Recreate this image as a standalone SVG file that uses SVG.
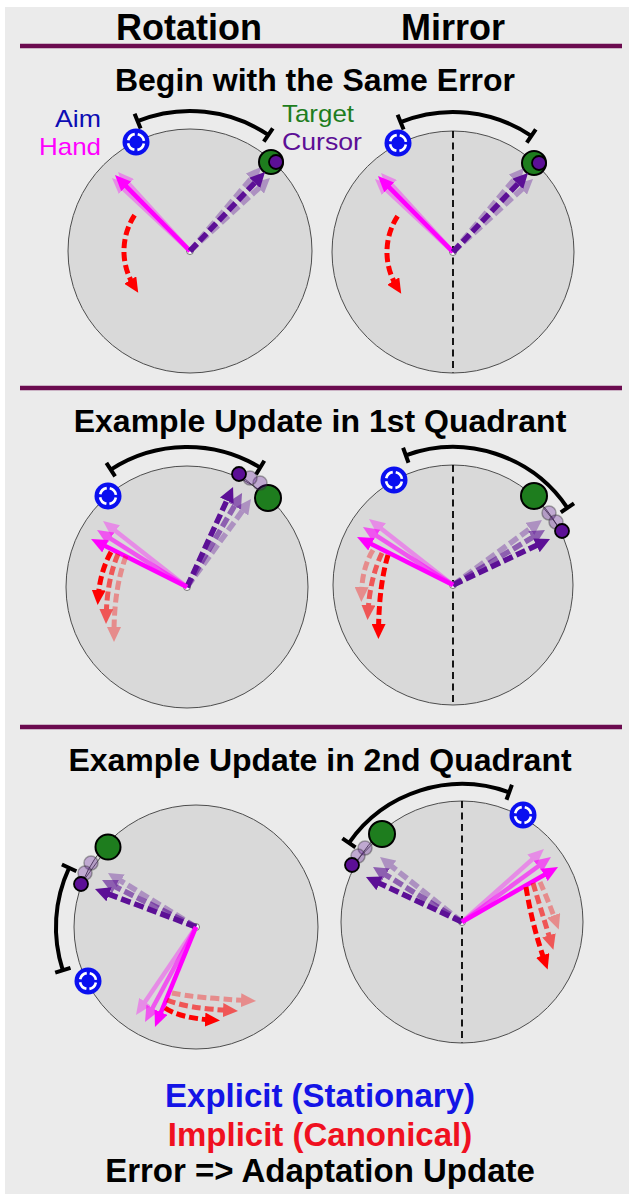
<svg xmlns="http://www.w3.org/2000/svg" width="629" height="1194" viewBox="0 0 629 1194">
  <style>
    .bg{fill:#ebebeb}
    .disk{fill:#d9d9d9;stroke:#4d4d4d;stroke-width:1}
    .axis{stroke:#000;stroke-width:1.8;stroke-dasharray:7 4.5;fill:none}
    .sep{stroke:#6b0b4f;stroke-width:4.5}
    .hdr{font-family:"Liberation Sans",Arial,sans-serif;font-weight:bold;font-size:36px;text-anchor:middle;fill:#000}
    .ttl{font-family:"Liberation Sans",Arial,sans-serif;font-weight:bold;font-size:32px;text-anchor:middle;fill:#000}
    .leg{font-family:"Liberation Sans",Arial,sans-serif;font-weight:bold;font-size:33px;text-anchor:middle}
    .lbl{font-family:"Liberation Sans",Arial,sans-serif;font-size:24px}
    .hand{stroke:#ff00ff;stroke-width:4.5;fill:none;marker-end:url(#mh)}
    .cur{stroke:#5c0f96;stroke-width:5.5;stroke-dasharray:10 4;fill:none;marker-end:url(#mp)}
    .imp{stroke:#ff0000;stroke-width:5;stroke-dasharray:9 4;fill:none;marker-end:url(#mr)}
    .err{stroke:#000;stroke-width:4;fill:none}
    .tgt{fill:#1e7d1e;stroke:#000;stroke-width:2}
    .cdot{fill:#5c0f96;stroke:#000;stroke-width:1.8}
    .ghost{fill:#5c0f96;fill-opacity:.3;stroke:#333;stroke-opacity:.4;stroke-width:1.5}
    .link{stroke:#333;stroke-width:0.8}
    .o1{opacity:.6}
    .o2{opacity:.35}
    .origin{fill:#fff;stroke:#555;stroke-width:.8}
  </style>
  <defs>
    <marker id="mh" markerUnits="userSpaceOnUse" markerWidth="16" markerHeight="14" refX="8" refY="7" orient="auto">
      <path d="M0,0 L16,7 L0,14 z" fill="#ff00ff"/>
    </marker>
    <marker id="mp" markerUnits="userSpaceOnUse" markerWidth="15" markerHeight="15" refX="7" refY="7.5" orient="auto">
      <path d="M0,0 L15,7.5 L0,15 z" fill="#5c0f96"/>
    </marker>
    <marker id="mr" markerUnits="userSpaceOnUse" markerWidth="15" markerHeight="14" refX="7" refY="7" orient="auto">
      <path d="M0,0 L15,7 L0,14 z" fill="#ff0000"/>
    </marker>
    <!-- explicit aim icon: blue disc with a broken white ring -->
    <g id="aim">
      <circle r="13.5" fill="#0a0ff0"/>
      <circle r="8" fill="none" stroke="#fff" stroke-width="2.6" stroke-dasharray="9.5 3.07" stroke-dashoffset="11.04"/>
      <circle r="4.5" fill="#0a0ff0"/>
    </g>
  </defs>

  <rect width="629" height="1194" fill="#fff"/>
  <rect class="bg" x="5" y="7" width="624" height="1187"/>

  <!-- column headings and separators -->
  <g id="headings">
    <text class="hdr" x="189" y="40">Rotation</text>
    <text class="hdr" x="453" y="40">Mirror</text>
    <line class="sep" x1="20" y1="46" x2="622" y2="46"/>
    <line class="sep" x1="20" y1="388" x2="622" y2="388"/>
    <line class="sep" x1="20" y1="727" x2="622" y2="727"/>
    <text class="ttl" x="315" y="91">Begin with the Same Error</text>
    <text class="ttl" x="320" y="432">Example Update in 1st Quadrant</text>
    <text class="ttl" x="320" y="771">Example Update in 2nd Quadrant</text>
  </g>

  <g id="labels">
    <text class="lbl" x="101" y="127" text-anchor="end" fill="#0d0db4" textLength="46" lengthAdjust="spacingAndGlyphs">Aim</text>
    <text class="lbl" x="101" y="155" text-anchor="end" fill="#ff00ff" textLength="62" lengthAdjust="spacingAndGlyphs">Hand</text>
    <text class="lbl" x="282" y="122" fill="#1e7d1e" textLength="72" lengthAdjust="spacingAndGlyphs">Target</text>
    <text class="lbl" x="282" y="150" fill="#5c0f96" textLength="80" lengthAdjust="spacingAndGlyphs">Cursor</text>
  </g>

  <!-- workspaces -->
  <g id="workspaces">
    <circle class="disk" cx="190" cy="251" r="122"/>
    <circle class="disk" cx="453" cy="252" r="121"/>
    <line class="axis" x1="453" y1="131" x2="453" y2="373"/>
    <circle class="disk" cx="187" cy="587" r="121"/>
    <circle class="disk" cx="453" cy="585" r="120"/>
    <line class="axis" x1="453" y1="465" x2="453" y2="705"/>
    <circle class="disk" cx="196" cy="927" r="122"/>
    <circle class="disk" cx="462" cy="922" r="121"/>
    <line class="axis" x1="462" y1="801" x2="462" y2="1043"/>
  </g>

  <!-- panel 1: rotation -->
  <g id="rot-begin">
    <path class="err" d="M137.6,121.2 A140,140 0 0 1 268.3,134.9 M134.6,113.8 L140.6,128.6 M263.8,141.6 L272.8,128.3"/>
    <use href="#aim" x="136" y="142"/>
    <circle class="tgt" cx="271" cy="162" r="12"/>
    <circle class="cdot" cx="276" cy="162" r="7"/>
    <circle class="origin" cx="190" cy="251" r="3.5"/>
    <g class="o2"><path class="hand" d="M190,251 L117.8,183.5"/></g>
    <g class="o2"><path class="hand" d="M190,251 L123.4,177.9"/></g>
    <path class="hand" d="M190,251 L120.6,180.7"/>
    <g class="o2"><path class="cur" d="M190,251 L264.1,183.4"/></g>
    <g class="o2"><path class="cur" d="M190,251 L255.8,173.1"/></g>
    <path class="cur" d="M190,251 L259.5,177.8"/>
    <path class="imp" d="M134.6,215.1 A66,66 0 0 0 134,286"/>
  </g>

  <!-- panel 1: mirror -->
  <g id="mir-begin">
    <path class="err" d="M400.6,122.2 A140,140 0 0 1 531.3,135.9 M397.6,114.8 L403.6,129.6 M526.8,142.6 L535.8,129.3"/>
    <use href="#aim" x="398" y="143"/>
    <circle class="tgt" cx="534" cy="163" r="12"/>
    <circle class="cdot" cx="539" cy="163" r="7"/>
    <circle class="origin" cx="453" cy="252" r="3.5"/>
    <g class="o2"><path class="hand" d="M453,252 L380.8,184.5"/></g>
    <g class="o2"><path class="hand" d="M453,252 L386.4,178.9"/></g>
    <path class="hand" d="M453,252 L383.6,181.7"/>
    <g class="o2"><path class="cur" d="M453,252 L527.1,184.4"/></g>
    <g class="o2"><path class="cur" d="M453,252 L518.8,174.1"/></g>
    <path class="cur" d="M453,252 L522.5,178.8"/>
    <path class="imp" d="M397.6,216.1 A66,66 0 0 0 397,287"/>
  </g>

  <!-- panel 2: rotation -->
  <g id="rot-q1">
    <path class="err" d="M110.8,469.6 A140,140 0 0 1 260.2,467.6 M106.4,462.9 L115.1,476.3 M256,474.5 L264.3,460.8"/>
    <use href="#aim" x="108" y="496"/>
    <line class="link" x1="268" y1="498" x2="239" y2="474"/>
    <circle class="tgt" cx="268" cy="498" r="13"/>
    <circle class="ghost" cx="260" cy="483" r="7"/>
    <circle class="ghost" cx="250" cy="478" r="7"/>
    <circle class="cdot" cx="239" cy="474" r="7"/>
    <circle class="origin" cx="187" cy="587" r="3.5"/>
    <g class="o2"><path class="cur" d="M187,587 L246.3,505.5"/></g>
    <g class="o1"><path class="cur" d="M187,587 L238,499.9"/></g>
    <path class="cur" d="M187,587 L229.7,494.3"/>
    <g class="o2"><path class="hand" d="M187,587 L109.3,525.9"/></g>
    <g class="o1"><path class="hand" d="M187,587 L103.8,534.3"/></g>
    <path class="hand" d="M187,587 L98.2,542.6"/>
    <g class="o2"><path class="imp" d="M126,556 Q114,588 114,634"/></g>
    <g class="o1"><path class="imp" d="M118,554 Q107,580 106.2,616"/></g>
    <path class="imp" d="M111,552 Q100,572 98.2,597"/>
  </g>

  <!-- panel 2: mirror -->
  <g id="mir-q1">
    <path class="err" d="M405.8,455.3 A138,138 0 0 1 567.4,507.8 M403.1,447.8 L408.5,462.8 M560.8,512.3 L574,503.4"/>
    <use href="#aim" x="394" y="480"/>
    <line class="link" x1="534" y1="496" x2="562" y2="531"/>
    <circle class="tgt" cx="534" cy="496" r="13"/>
    <circle class="ghost" cx="549" cy="513" r="7"/>
    <circle class="ghost" cx="556" cy="522" r="7"/>
    <circle class="cdot" cx="562" cy="531" r="7"/>
    <circle class="origin" cx="453" cy="585" r="3.5"/>
    <g class="o2"><path class="cur" d="M453,585 L535.5,524.7"/></g>
    <g class="o1"><path class="cur" d="M453,585 L538.1,534.1"/></g>
    <path class="cur" d="M453,585 L542.8,542.4"/>
    <g class="o2"><path class="hand" d="M453,585 L375.3,523.9"/></g>
    <g class="o1"><path class="hand" d="M453,585 L369.7,531.3"/></g>
    <path class="hand" d="M453,585 L364.2,540.6"/>
    <g class="o2"><path class="imp" d="M373,550 Q362,568 361.5,594"/></g>
    <g class="o1"><path class="imp" d="M382,553 Q370,578 368,612"/></g>
    <path class="imp" d="M388,555 Q379,585 378.5,631"/>
  </g>

  <!-- panel 3: rotation -->
  <g id="rot-q2">
    <path class="err" d="M69.1,867.8 A140,140 0 0 0 62.8,970.3 M61.9,864.5 L76.4,871.2 M55.2,972.7 L70.5,967.8"/>
    <use href="#aim" x="88" y="981"/>
    <line class="link" x1="108" y1="847" x2="81" y2="884"/>
    <circle class="tgt" cx="108" cy="847" r="12.5"/>
    <circle class="ghost" cx="91" cy="863" r="7"/>
    <circle class="ghost" cx="85" cy="873" r="7"/>
    <circle class="cdot" cx="81" cy="884" r="7"/>
    <circle class="origin" cx="196" cy="927" r="3.5"/>
    <g class="o2"><path class="cur" d="M196,927 L114.8,877.2"/></g>
    <g class="o1"><path class="cur" d="M196,927 L109.2,883.6"/></g>
    <path class="cur" d="M196,927 L102.5,891.8"/>
    <g class="o2"><path class="hand" d="M196,927 L140.5,1008.4"/></g>
    <g class="o1"><path class="hand" d="M196,927 L148.8,1015"/></g>
    <path class="hand" d="M196,927 L158,1019.6"/>
    <g class="o2"><path class="imp" d="M172,993 Q195,998 248,1000.5"/></g>
    <g class="o1"><path class="imp" d="M167,1000 Q185,1008 230,1010.5"/></g>
    <path class="imp" d="M165,1008 Q180,1018 212,1020"/>
  </g>

  <!-- panel 3: mirror -->
  <g id="mir-q2">
    <path class="err" d="M509.2,792.3 A138,138 0 0 0 349,842.8 M511.9,784.8 L506.5,799.8 M342.4,838.3 L355.5,847.4"/>
    <use href="#aim" x="523" y="815"/>
    <line class="link" x1="382" y1="834" x2="352" y2="865"/>
    <circle class="tgt" cx="382" cy="834" r="13"/>
    <circle class="ghost" cx="365" cy="848" r="7"/>
    <circle class="ghost" cx="358" cy="856" r="7"/>
    <circle class="cdot" cx="352" cy="865" r="7"/>
    <circle class="origin" cx="462" cy="922" r="3.5"/>
    <g class="o2"><path class="cur" d="M462,922 L386.3,862"/></g>
    <g class="o1"><path class="cur" d="M462,922 L379.8,871.2"/></g>
    <path class="cur" d="M462,922 L373.2,880.4"/>
    <g class="o2"><path class="hand" d="M462,922 L538,854.3"/></g>
    <g class="o1"><path class="hand" d="M462,922 L544.5,861.7"/></g>
    <path class="hand" d="M462,922 L551.1,871"/>
    <g class="o2"><path class="imp" d="M540,882 Q548,900 556,922"/></g>
    <g class="o1"><path class="imp" d="M533,883 Q541,910 551,942"/></g>
    <path class="imp" d="M526,887 Q532,925 545,962"/>
  </g>

  <!-- legend -->
  <g id="legend">
    <text class="leg" x="320" y="1107" fill="#1414e6">Explicit (Stationary)</text>
    <text class="leg" x="320" y="1146" fill="#f01020">Implicit (Canonical)</text>
    <text class="leg" x="320" y="1182" fill="#000">Error =&gt; Adaptation Update</text>
  </g>
</svg>
